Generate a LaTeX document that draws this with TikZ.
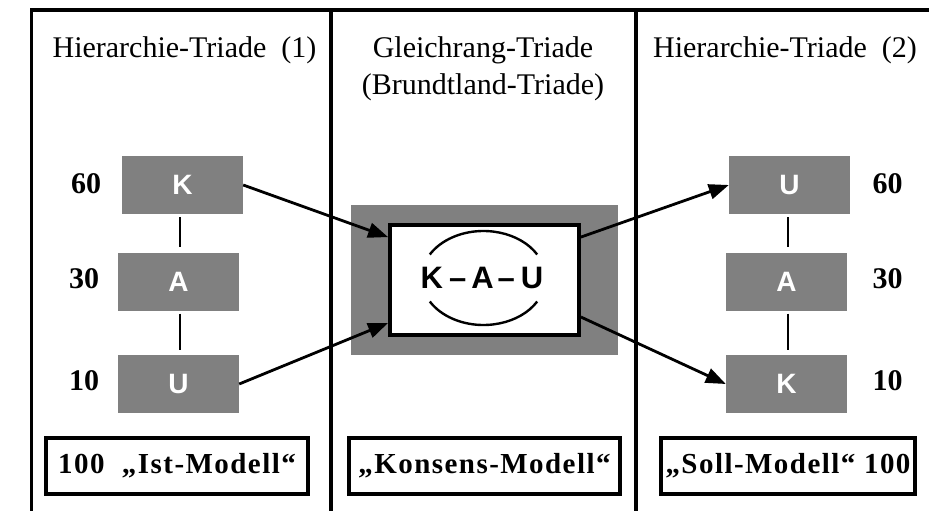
\documentclass[tikz,border=0pt]{standalone}
\usepackage{fontspec}
\setmainfont{Liberation Serif}
\setsansfont{Liberation Sans}
\newfontfamily\lblfont[LetterSpace=5]{Liberation Serif}
\usetikzlibrary{arrows.meta,calc}
\definecolor{boxgray}{RGB}{128,128,128}
\begin{document}
\begin{tikzpicture}[x=1pt,y=-1pt,
  frameline/.style={line width=3.4pt},
  graybox/.style={fill=boxgray,minimum width=121pt,minimum height=58pt,inner sep=0pt,
    text=white,font=\sffamily\bfseries\fontsize{28}{28}\selectfont},
  numlbl/.style={anchor=base,font=\bfseries\fontsize{30}{30}\selectfont},
  header/.style={anchor=base,font=\fontsize{30}{36}\selectfont},
  link/.style={line width=2.8pt,shorten <=3pt,shorten >=5pt},
  arr/.style={line width=2.8pt,-{Triangle[length=20pt,width=15pt]}},
  modelbox/.style={draw,line width=3.8pt,minimum height=56pt,inner sep=0pt,
    font=\lblfont\bfseries\fontsize{29}{29}\selectfont}]
\useasboundingbox (0,0) rectangle (929,511);
% frame
\coordinate (tl) at (31.5,10);
\coordinate (tr) at (929,10);
\coordinate (bl) at (31.5,511);
\coordinate (d1t) at (331,10);
\coordinate (d1b) at (331,511);
\coordinate (d2t) at (636,10);
\coordinate (d2b) at (636,511);
\draw[frameline] (bl) -- (tl) -- (tr);
\draw[frameline] (d1t) -- (d1b);
\draw[frameline] (d2t) -- (d2b);
% headers
\node[header] (h1) at (184.5,58) {Hierarchie-Triade\ \ (1)};
\node[header] (h2) at (483,58) {Gleichrang-Triade};
\node[header] (h2b) at (483,94) {(Brundtland-Triade)};
\node[header] (h3) at (785,58) {Hierarchie-Triade\ \ (2)};
% left column
\node[graybox] (K1) at (182.5,185) {K};
\node[graybox] (A1) at (178.5,281.5) {A};
\node[graybox] (U1) at (178.5,384) {U};
\draw[link] (K1.south -| 180,0) -- (A1.north -| 180,0);
\draw[link] (A1.south -| 180,0) -- (U1.north -| 180,0);
\node[numlbl] (n60a) at (86,193) {60};
\node[numlbl] (n30a) at (84,288) {30};
\node[numlbl] (n10a) at (84,390) {10};
% right column
\node[graybox] (U2) at (789.5,185) {U};
\node[graybox] (A2) at (786.5,281.5) {A};
\node[graybox] (K2) at (786.5,384) {K};
\draw[link] (U2.south -| 788,0) -- (A2.north -| 788,0);
\draw[link] (A2.south -| 788,0) -- (K2.north -| 788,0);
\node[numlbl] (n60b) at (887.5,193) {60};
\node[numlbl] (n30b) at (887.5,288) {30};
\node[numlbl] (n10b) at (887.5,390) {10};
% center
\node[fill=boxgray,minimum width=267pt,minimum height=150pt,inner sep=0pt] (cbg) at (484.5,280) {};
\node[fill=white,draw,line width=3.8pt,minimum width=189pt,minimum height=110pt,inner sep=0pt] (cw) at (484.5,280) {};
\node[font=\sffamily\bfseries\fontsize{31}{31}\selectfont,inner sep=0pt] (kau) at (482,278) {K\hspace{6pt}–\hspace{5pt}A\hspace{4pt}–\hspace{6pt}U};
\coordinate (ec) at (483.5,278);
\draw[line width=2.4pt] ($(ec)+(-30:62 and 47)$) arc[start angle=-30,end angle=-150,x radius=62,y radius=47];
\draw[line width=2.4pt] ($(ec)+(30:62 and 47)$) arc[start angle=30,end angle=150,x radius=62,y radius=47];
% arrows
\draw[arr] (K1.east) -- (cw.156);
\draw[arr] (U1.east) -- (cw.204);
\draw[arr] (cw.24) -- (U2.west);
\draw[arr] (cw.-21) -- (K2.west);
% model boxes
\node[modelbox,minimum width=262pt] (m1) at (177,466) {100\ \ „Ist-Modell“};
\node[modelbox,minimum width=271pt] (m2) at (484.5,466) {„Konsens-Modell“};
\node[modelbox,minimum width=254pt] (m3) at (788,466) {„Soll-Modell“ 100};
\end{tikzpicture}
\end{document}
